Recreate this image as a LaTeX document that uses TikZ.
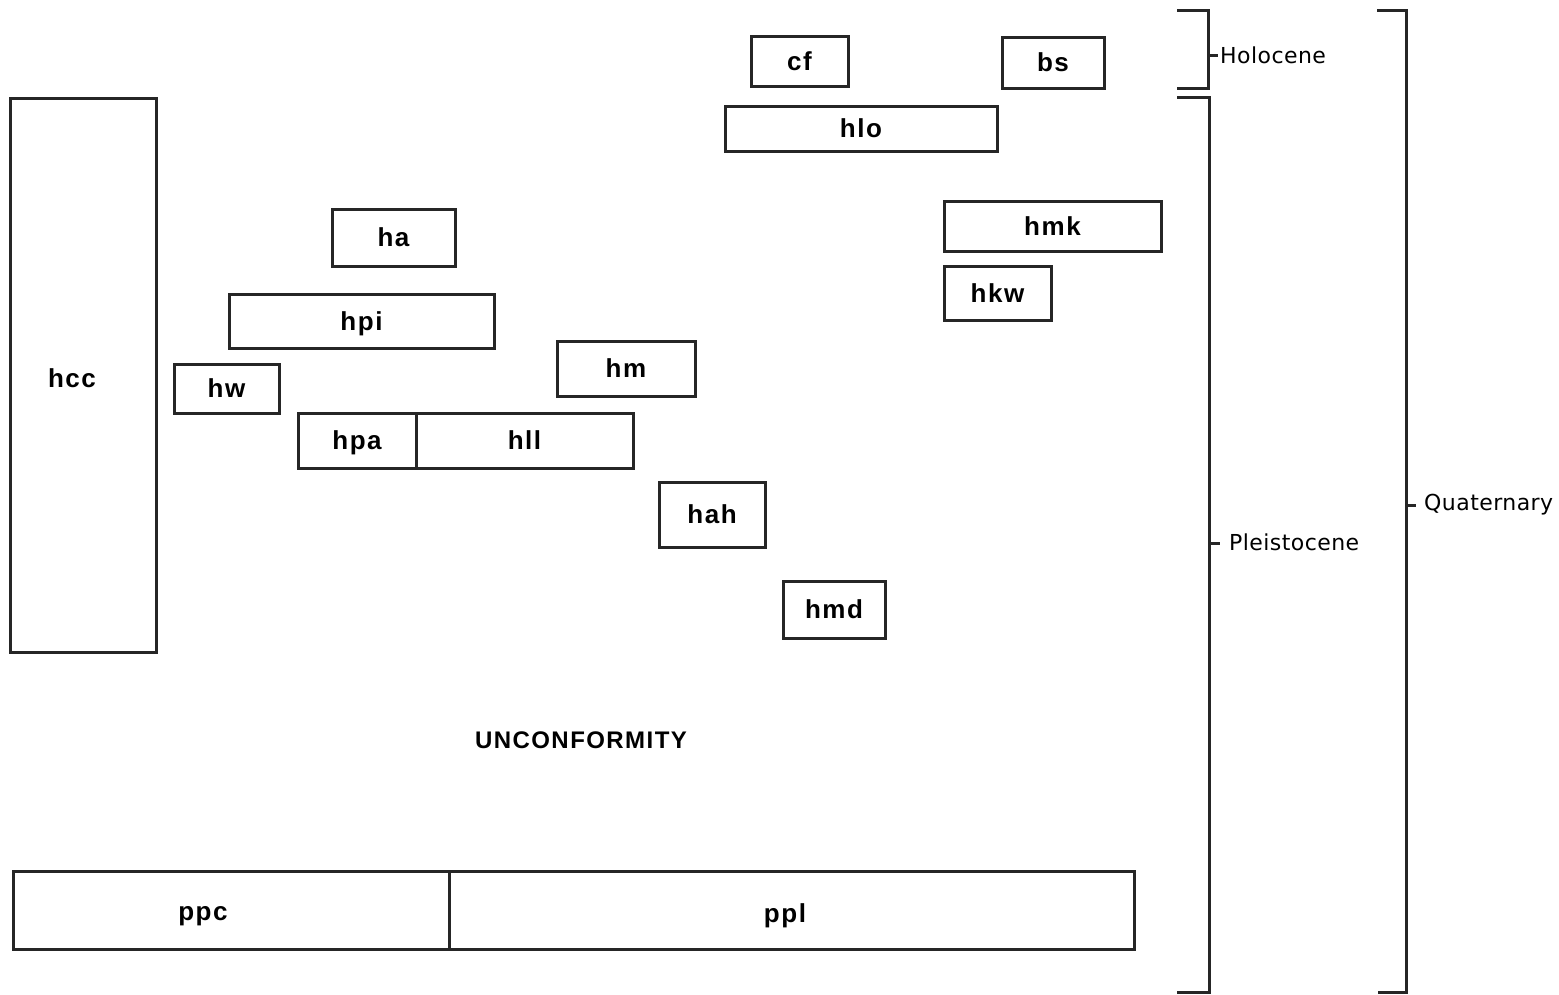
\documentclass[tikz,border=0pt]{standalone}
\usepackage{fontspec}
\newfontfamily\boxfont[LetterSpace=6]{Liberation Sans}
\newfontfamily\agefont[LetterSpace=2]{DejaVu Sans}
\begin{document}
\begin{tikzpicture}[x=1pt,y=-1pt,
  unit/.style={draw=black!85, line width=3pt, rectangle, inner sep=0pt, text depth=0pt, font=\boxfont\bfseries\fontsize{26}{26}\selectfont},
  lbl/.style={inner sep=0pt, text depth=0pt, font=\boxfont\bfseries\fontsize{26}{26}\selectfont},
  age/.style={inner sep=0pt, anchor=west, font=\agefont\fontsize{22}{22}\selectfont},
  brk/.style={draw=black!85, line width=3pt}]
\useasboundingbox (0,0) rectangle (1559,994);
% units
\node[unit, minimum width=146pt, minimum height=554pt] (hcc) at (83,375) {};
\node[lbl] (hcct) at (72,378) {hcc};
\node[unit, minimum width=97pt, minimum height=50pt] (cf) at (799.5,61) {cf};
\node[unit, minimum width=102pt, minimum height=51pt] (bs) at (1053,62.5) {bs};
\node[unit, minimum width=272pt, minimum height=45pt] (hlo) at (861,128.5) {hlo};
\node[unit, minimum width=123pt, minimum height=57pt] (ha) at (393.5,237.5) {ha};
\node[unit, minimum width=217pt, minimum height=50pt] (hmk) at (1052.5,226) {hmk};
\node[unit, minimum width=107pt, minimum height=54pt] (hkw) at (997.5,293) {hkw};
\node[unit, minimum width=265pt, minimum height=54pt] (hpi) at (361.5,321) {hpi};
\node[unit, minimum width=138pt, minimum height=55pt] (hm) at (626,368.5) {hm};
\node[unit, minimum width=105pt, minimum height=49pt] (hw) at (226.5,388.5) {hw};
\node[unit, minimum width=118pt, minimum height=55pt] (hpa) at (357,440.5) {hpa};
\node[unit, minimum width=217pt, minimum height=55pt] (hll) at (524.5,440.5) {hll};
\node[unit, minimum width=106pt, minimum height=65pt] (hah) at (712,514.5) {hah};
\node[unit, minimum width=102pt, minimum height=57pt] (hmd) at (834,609.5) {hmd};
\node[lbl, font=\boxfont\bfseries\fontsize{24}{24}\selectfont] (unc) at (581,740) {UNCONFORMITY};
\node[unit, minimum width=436pt, minimum height=78pt] (ppc) at (231,910) {};
\node[lbl] (ppct) at (203,913) {ppc};
\node[unit, minimum width=685pt, minimum height=78pt] (ppl) at (791.5,910) {};
\node[lbl] (pplt) at (785,913) {ppl};
% brackets
\coordinate (h1) at (1177,10); \coordinate (h2) at (1208,10);
\coordinate (h3) at (1208,88); \coordinate (h4) at (1177,88);
\draw[brk] (h1) -- (h2) -- (h3) -- (h4);
\coordinate (ht) at (1208,55); \coordinate (hte) at (1218,55);
\draw[brk] (ht) -- (hte);
\node[age] (hol) at (1220,55) {Holocene};
\coordinate (p1) at (1177,97); \coordinate (p2) at (1209,97);
\coordinate (p3) at (1209,992); \coordinate (p4) at (1177,992);
\draw[brk] (p1) -- (p2) -- (p3) -- (p4);
\coordinate (pt) at (1209,543); \coordinate (pte) at (1220,543);
\draw[brk] (pt) -- (pte);
\node[age] (ple) at (1229,542) {Pleistocene};
\coordinate (q1) at (1377,10); \coordinate (q2) at (1406,10);
\coordinate (q3) at (1406,992); \coordinate (q4) at (1378,992);
\draw[brk] (q1) -- (q2) -- (q3) -- (q4);
\coordinate (qt) at (1406,505); \coordinate (qte) at (1416,505);
\draw[brk] (qt) -- (qte);
\node[age] (qua) at (1424,505) {Quaternary};
\end{tikzpicture}
\end{document}
